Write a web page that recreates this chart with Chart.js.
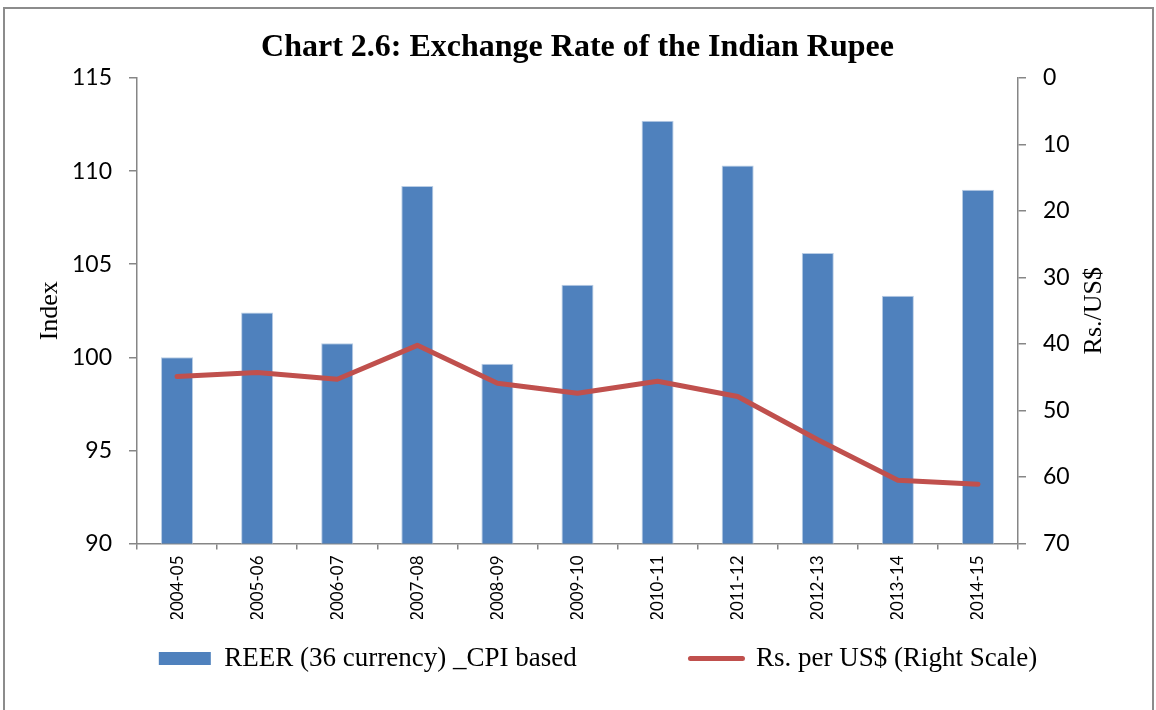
<!DOCTYPE html>
<html>
<head>
<meta charset="utf-8">
<script src="https://cdn.jsdelivr.net/npm/chart.js@4.4.1/dist/chart.umd.min.js"></script>
<style>
  html, body { margin: 0; padding: 0; background: #fff; }
  #wrap { position: relative; width: 1156px; height: 710px; overflow: hidden; }
  #frame { position: absolute; left: 3px; top: 7px; width: 1147px; height: 720px; border: 2px solid #8c8c8c; }
  #chart { position: absolute; left: 0; top: 0; }
</style>
</head>
<body>
<div id="wrap">
  <div id="frame"></div>
  <canvas id="chart" width="1156" height="710"></canvas>
</div>
<script>
const years = ['2004-05', '2005-06', '2006-07', '2007-08', '2008-09', '2009-10',
  '2010-11', '2011-12', '2012-13', '2013-14', '2014-15'];
const reerValues = [100.0, 102.4, 100.75, 109.2, 99.65, 103.9, 112.7, 110.3, 105.6, 103.3, 109.0];
const rupeeValues = [44.9, 44.3, 45.3, 40.2, 45.9, 47.4, 45.6, 47.9, 54.4, 60.5, 61.1];
const leftTicks = [90, 95, 100, 105, 110, 115];
const rightTicks = [0, 10, 20, 30, 40, 50, 60, 70];

const chartTitle = 'Chart 2.6: Exchange Rate of the Indian Rupee';
const leftAxisTitle = 'Index';
const rightAxisTitle = 'Rs./US$';
const reerLabel = 'REER (36 currency) _CPI based';
const rupeeLabel = 'Rs. per US$ (Right Scale)';

const BLUE = '#4f81bd';
const RED = '#c0504d';
const AXIS = '#868686';
const SANS = 'Lato, "Open Sans", sans-serif';
const SERIF = '"Liberation Serif", "Times New Roman", serif';

// right axis title reads bottom-to-top like the left one
const rightTitlePlugin = {
  id: 'rightTitle',
  afterDraw(chart) {
    const scale = chart.scales.y1;
    const { ctx } = chart;
    ctx.save();
    ctx.font = `26px ${SERIF}`;
    ctx.fillStyle = '#000';
    ctx.textAlign = 'center';
    ctx.textBaseline = 'middle';
    ctx.translate(scale.right - 62, (scale.top + scale.bottom) / 2);
    ctx.rotate(-Math.PI / 2);
    ctx.fillText(rightAxisTitle, 0, 0);
    ctx.restore();
  },
};

new Chart(document.getElementById('chart'), {
  data: {
    labels: years,
    datasets: [
      {
        type: 'line',
        label: rupeeLabel,
        data: rupeeValues,
        yAxisID: 'y1',
        borderColor: RED,
        backgroundColor: RED,
        borderWidth: 5,
        borderCapStyle: 'round',
        borderJoinStyle: 'round',
        pointRadius: 0,
        tension: 0,
        order: 1,
      },
      {
        type: 'bar',
        label: reerLabel,
        data: reerValues,
        yAxisID: 'y',
        backgroundColor: BLUE,
        borderColor: '#b9cde5',
        borderWidth: 1,
        barPercentage: 0.4,
        categoryPercentage: 1,
        order: 2,
      },
    ],
  },
  options: {
    responsive: false,
    animation: false,
    layout: { padding: { left: 40, right: 0, top: 0, bottom: 28 } },
    plugins: {
      title: {
        display: true,
        fullSize: false,
        text: chartTitle,
        color: '#000',
        font: { family: SERIF, size: 32, weight: 'bold' },
        padding: { top: 29, bottom: 10.6 },
      },
      legend: {
        position: 'bottom',
        reverse: true,
        labels: {
          color: '#000',
          font: { family: SERIF, size: 27 },
          usePointStyle: true,
          pointStyleWidth: 52,
          boxHeight: 13,
          padding: 26,
          generateLabels(chart) {
            const items = Chart.defaults.plugins.legend.labels.generateLabels(chart);
            items.forEach((item) => {
              if (item.datasetIndex === 0) {
                item.pointStyle = 'line';
                item.lineWidth = 5;
                item.strokeStyle = RED;
                item.lineCap = 'round';
              } else {
                // wider gap before the second entry, as in the source
                item.text += '\u00a0'.repeat(13);
                item.pointStyle = 'rect';
                item.lineWidth = 0;
              }
            });
            return items;
          },
        },
      },
      tooltip: { enabled: false },
    },
    scales: {
      x: {
        offset: true,
        grid: { display: true, drawOnChartArea: false, offset: true, tickLength: 6, color: AXIS, lineWidth: 1.5 },
        border: { color: AXIS, width: 1.5 },
        ticks: { color: '#000', font: { family: SANS, size: 17 }, minRotation: 90, maxRotation: 90, padding: 6 },
        afterFit(scale) { scale.height = 75.5; },
      },
      y: {
        position: 'left',
        min: 90,
        max: 115,
        afterBuildTicks(scale) { scale.ticks = leftTicks.map((value) => ({ value })); },
        grid: { drawOnChartArea: false, tickLength: 8, color: AXIS, lineWidth: 1.5 },
        border: { color: AXIS, width: 1.5 },
        ticks: { color: '#000', font: { family: SANS, size: 23 }, padding: 17 },
        title: {
          display: true,
          text: leftAxisTitle,
          color: '#000',
          font: { family: SERIF, size: 26 },
          padding: { top: -5, bottom: 0 },
        },
        afterFit(scale) { scale.width = 97; },
      },
      y1: {
        position: 'right',
        reverse: true,
        min: 0,
        max: 70,
        afterBuildTicks(scale) { scale.ticks = rightTicks.map((value) => ({ value })); },
        grid: { drawOnChartArea: false, tickLength: 8, color: AXIS, lineWidth: 1.5 },
        border: { color: AXIS, width: 1.5 },
        ticks: { color: '#000', font: { family: SANS, size: 23 }, padding: 17 },
        afterFit(scale) { scale.width = 138; },
      },
    },
  },
  plugins: [rightTitlePlugin],
});
</script>
</body>
</html>
